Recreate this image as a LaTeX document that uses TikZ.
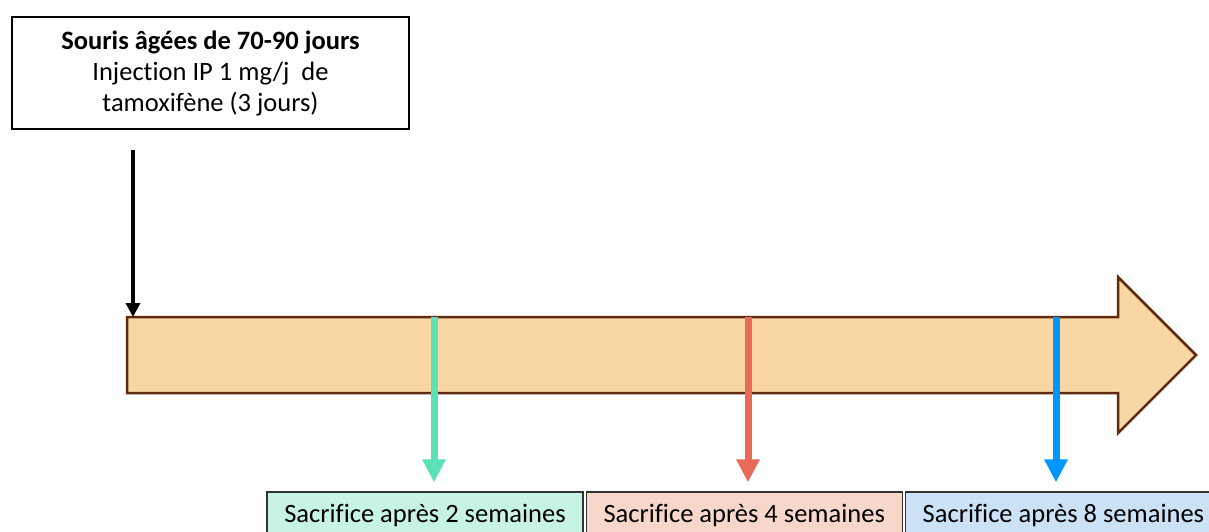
\documentclass[tikz,border=0pt]{standalone}
\usepackage{fontspec}
\setmainfont{Carlito}[Ligatures=CommonOff]
\usetikzlibrary{positioning,arrows.meta}
\definecolor{bar}{HTML}{F8D7A4}
\definecolor{barline}{HTML}{5E2B10}
\definecolor{wkgreen}{HTML}{5BE0B8}
\definecolor{wkgreenfill}{HTML}{C6F3E4}
\definecolor{wkred}{HTML}{E86B5A}
\definecolor{wkredfill}{HTML}{F8D7CB}
\definecolor{wkblue}{HTML}{0096FF}
\definecolor{wkbluefill}{HTML}{CBE2F6}

\begin{document}
\begin{tikzpicture}[
  x=1pt, y=-1pt,
  font=\fontsize{26.5}{31}\selectfont,
  box/.style={draw=black, line width=1.2pt, fill=white, align=center, inner sep=4pt, minimum width=397pt, minimum height=112pt},
  sbox/.style={draw=black!80, line width=1.2pt, align=center, inner sep=2pt, minimum width=316pt, minimum height=48pt},
  inj/.style={-{Triangle[length=14pt, width=14pt]}, line width=4pt, draw=black},
  arr/.style={-{Triangle[length=23pt, width=22pt]}, line width=7pt, shorten >=9pt},
]
\useasboundingbox (0,0) rectangle (1209,531);
\node[box] (mice) at (210.5,73) {\textbf{Souris âgées de 70-90 jours}\\Injection IP 1 mg/j\ \ de\\tamoxifène (3 jours)};
% timeline
\draw[fill=bar, draw=barline, line width=2.5pt, line join=miter]
  (127,317) -- (1118,317) -- (1118,277) -- (1196,355) -- (1118,433) -- (1118,393) -- (127,393) -- cycle;
\coordinate (start) at (133,150);
\coordinate (t0) at (133,317);
\coordinate (t2) at (434,317);
\coordinate (t4) at (748,317);
\coordinate (t8) at (1056,317);
% sacrifice boxes
\node[sbox, fill=wkgreenfill] (s2) at (425,516) {Sacrifice après 2 semaines};
\node[sbox, fill=wkredfill, right=2pt of s2] (s4) {Sacrifice après 4 semaines};
\node[sbox, fill=wkbluefill, right=2pt of s4] (s8) {Sacrifice après 8 semaines};
\draw[inj] (start) -- (t0);
\draw[arr, draw=wkgreen, color=wkgreen] (t2) -- (t2 |- s2.north);
\draw[arr, draw=wkred, color=wkred] (t4) -- (t4 |- s4.north);
\draw[arr, draw=wkblue, color=wkblue] (t8) -- (t8 |- s8.north);
\end{tikzpicture}
\end{document}
